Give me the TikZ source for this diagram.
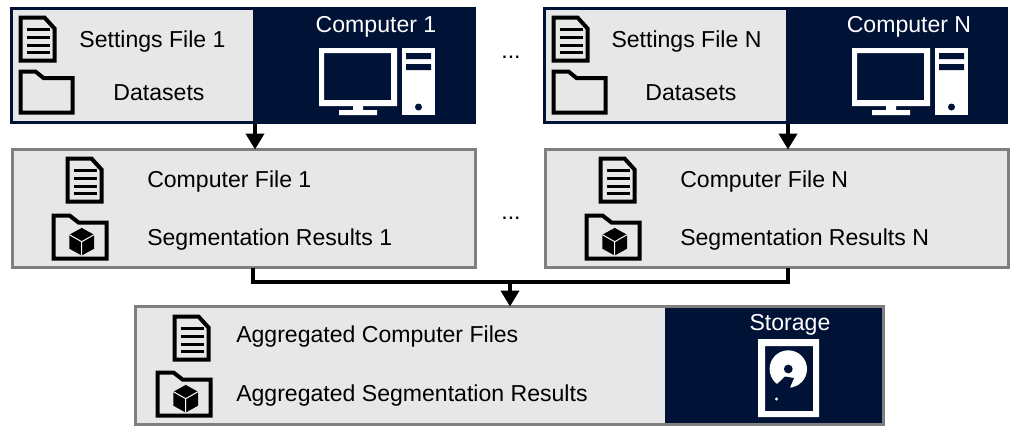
\documentclass[tikz,border=0pt]{standalone}
\usepackage{fontspec}
\setmainfont{Liberation Sans}
\usetikzlibrary{arrows.meta}
\definecolor{navy}{HTML}{011237}
\definecolor{panel}{HTML}{E7E7E7}
\definecolor{frame}{HTML}{7F7F7F}
\def\px{0.75pt}
\tikzset{
  navybox/.style={fill=navy,inner sep=0pt,outer sep=0pt},
  panelbox/.style={fill=panel,inner sep=0pt,outer sep=0pt},
  framebox/.style={fill=panel,draw=frame,line width=3.5*\px,inner sep=0pt,outer sep=0pt},
  label/.style={font=\fontsize{17.3}{20}\selectfont,inner sep=0pt,anchor=base},
  leftlabel/.style={label,anchor=base west},
  whitelabel/.style={label,text=white},
  link/.style={line width=4*\px},
  flow/.style={line width=4*\px,-{Triangle[length=12pt,width=13.5pt]}},
  docicon/.pic={
    \draw[line width=4*\px,miter limit=10] (0,0) -- (24,0) -- (34,11) -- (34,43) -- (0,43) -- cycle;
    \foreach \y in {11.5,19.5,27.5,35}
      \draw[line width=3*\px] (6,\y) -- (29,\y);
  },
  foldericon/.pic={
    \draw[line width=4*\px] (0,0) -- (15,0) -- (23,6.5) -- (52,6.5) -- (52,41) -- (0,41) -- cycle;
  },
  cubeicon/.pic={
    \draw[line width=4*\px] (0,0) -- (16,0) -- (25,7) -- (53,7) -- (53,43) -- (0,43) -- cycle;
    \fill (28.2,12.4) -- (40.5,19.2) -- (40.5,33.2) -- (28.2,40) -- (15.9,33.2) -- (15.9,19.2) -- cycle;
    \draw[white,line width=1*\px] (15.9,19.2) -- (28.2,26.2) -- (40.5,19.2) (28.2,26.2) -- (28.2,40);
  },
  pcicon/.pic={
    \fill[white,even odd rule] (0,0) rectangle (78,58) (5,5) rectangle (72,52);
    \fill[white] (34,58) rectangle (44,63) (20,62) rectangle (58,67);
    \fill[white] (83,0) rectangle (116,67);
    \fill[navy] (87,5) rectangle (112,11) (87,16) rectangle (112,22);
    \fill[navy] (99.5,59) circle (3.5);
  },
  diskicon/.pic={
    \fill[white,even odd rule] (0,0) rectangle (61,78) (7,7) rectangle (55,72);
    \fill[white] (30.3,30) circle (18.7);
    \fill[navy] (30.3,30) circle (4.4);
    \fill[navy] (16,48) -- (27,37.5) -- (36,39) -- (30,53) -- (18,55) -- cycle;
    \fill[white] (18.5,60) circle (1.6);
  }
}
\begin{document}
\begin{tikzpicture}[x=\px,y=-\px]
  \useasboundingbox (0,0) rectangle (1014,433);
  % top row
  \node[navybox,minimum width=466*\px,minimum height=117*\px] (comp1) at (243,65.5) {};
  \node[panelbox,minimum width=240*\px,minimum height=111*\px] (set1) at (133,65.5) {};
  \node[navybox,minimum width=465*\px,minimum height=117*\px] (compN) at (775.5,65.5) {};
  \node[panelbox,minimum width=240*\px,minimum height=111*\px] (setN) at (666,65.5) {};
  \node[label] (set1txt) at (152.5,47.5) {Settings File 1};
  \node[label] (data1txt) at (159,100.5) {Datasets};
  \node[whitelabel] (comp1txt) at (376,32.5) {Computer 1};
  \node[label] (setNtxt) at (686.5,47.5) {Settings File N};
  \node[label] (dataNtxt) at (691,100.5) {Datasets};
  \node[whitelabel] (compNtxt) at (909,32.5) {Computer N};
  \pic at (20.5,17.5) {docicon};
  \pic at (20.5,71.5) {foldericon};
  \pic at (319,48) {pcicon};
  \pic at (553.5,17.5) {docicon};
  \pic at (553.5,71.5) {foldericon};
  \pic at (852,48) {pcicon};
  \node[label] (dots1) at (511,58) {...};
  % middle row
  \node[framebox,minimum width=463*\px,minimum height=118*\px] (mid1) at (244,208.5) {};
  \node[framebox,minimum width=463*\px,minimum height=118*\px] (midN) at (777,208.5) {};
  \node[leftlabel] (file1txt) at (147,187) {Computer File 1};
  \node[leftlabel] (seg1txt) at (147,245) {Segmentation Results 1};
  \node[leftlabel] (fileNtxt) at (680,187) {Computer File N};
  \node[leftlabel] (segNtxt) at (680,245) {Segmentation Results N};
  \pic at (67.5,158.5) {docicon};
  \pic at (53.5,215.5) {cubeicon};
  \pic at (600.5,158.5) {docicon};
  \pic at (586.5,215.5) {cubeicon};
  \node[label] (dots2) at (511,219) {...};
  % bottom row
  \node[framebox,minimum width=748*\px,minimum height=118*\px] (stor) at (509.5,365.5) {};
  \node[navybox,minimum width=217*\px,minimum height=115*\px] (disk) at (773.5,365.5) {};
  \node[leftlabel] (allfiletxt) at (236,342) {Aggregated Computer Files};
  \node[leftlabel] (allsegtxt) at (236,401) {Aggregated Segmentation Results};
  \node[whitelabel] (stortxt) at (790,330) {Storage};
  \pic at (174.5,316.5) {docicon};
  \pic at (157.5,372.5) {cubeicon};
  \pic at (758,339) {diskicon};
  % connectors
  \coordinate (join) at (510,282);
  \coordinate (drop1) at (255,0);
  \coordinate (dropN) at (788,0);
  \draw[flow] (drop1 |- comp1.south) -- (drop1 |- mid1.north);
  \draw[flow] (dropN |- compN.south) -- (dropN |- midN.north);
  \draw[link] (set1.south east |- mid1.south) |- (join) -| (dropN |- midN.south);
  \draw[flow] (join) -- (join |- stor.north);
\end{tikzpicture}
\end{document}
